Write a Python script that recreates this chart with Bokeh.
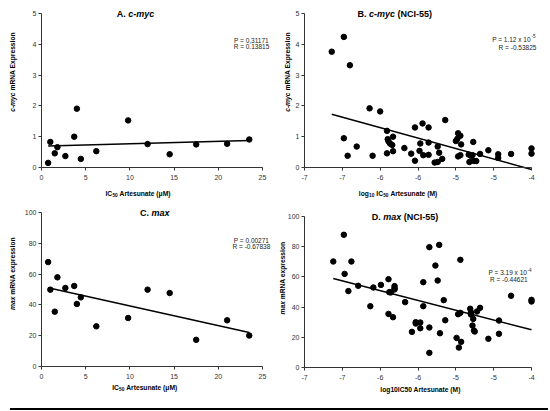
import numpy as np
from bokeh.plotting import figure
from bokeh.models import Range1d, Label, FixedTicker, Div
from bokeh.layouts import column, row
from bokeh.embed import file_html
from bokeh.resources import INLINE

# ---------------- data ----------------
ic50_um = [0.75, 1.0, 1.5, 1.8, 2.7, 3.7, 4.0, 4.45, 6.2, 9.8, 12.0, 14.5, 17.5, 21.0, 23.5]
cmyc_expr = [0.15, 0.83, 0.46, 0.66, 0.37, 1.00, 1.91, 0.28, 0.53, 1.53, 0.76, 0.43, 0.75, 0.77, 0.91]
max_expr = [67.8, 49.9, 35.6, 57.9, 51.0, 52.3, 40.6, 44.9, 26.1, 31.5, 49.9, 47.7, 17.3, 30.0, 20.1]

nci_log_ic50_b = [-6.64, -6.48, -6.40, -6.48, -6.43, -6.31, -6.14, -6.10, -6.00, -5.91,
                  -5.83, -5.90, -5.89, -5.87, -5.84, -5.91, -5.83, -5.68, -5.59, -5.54,
                  -5.54, -5.44, -5.36, -5.14, -5.47, -5.36, -5.24, -5.48, -5.43, -5.36,
                  -5.22, -5.18, -5.28, -5.24, -4.97, -4.94, -4.98, -5.00, -4.93, -4.97,
                  -4.94, -4.77, -4.83, -4.80, -4.78, -4.82, -4.76, -4.73, -4.68, -4.57,
                  -4.44, -4.44, -4.27, -4.00, -4.00]
nci_cmyc = [3.76, 4.24, 3.32, 0.95, 0.38, 0.68, 1.92, 0.38, 1.82, 1.19,
            1.00, 0.92, 0.85, 0.78, 0.73, 0.46, 0.53, 0.63, 0.45, 1.30,
            0.22, 1.43, 1.30, 1.54, 0.78, 0.81, 0.68, 0.54, 0.40, 0.41,
            0.48, 0.28, 0.16, 0.18, 1.11, 1.03, 0.93, 0.86, 0.75, 0.36,
            0.40, 0.83, 0.42, 0.38, 0.40, 0.18, 0.21, 0.21, 0.44, 0.56,
            0.43, 0.31, 0.44, 0.62, 0.45]

nci_log_ic50_d = [-6.48, -6.62, -6.38, -6.47, -6.42, -6.29, -6.09, -5.99, -5.89, -5.88,
                  -5.86, -5.81, -5.81, -5.81, -6.13, -5.67, -5.89, -5.83, -5.58, -5.53,
                  -5.53, -5.35, -5.22, -5.27, -4.94, -5.43, -5.24, -5.16, -5.43, -5.47,
                  -5.47, -5.35, -5.21, -5.14, -5.35, -4.99, -4.93, -4.96, -4.97, -4.94,
                  -4.81, -4.80, -4.80, -4.72, -4.68, -4.77, -4.78, -4.76, -4.75, -4.57,
                  -4.43, -4.43, -4.27, -4.00, -4.00]
nci_max = [87.9, 70.2, 70.2, 62.0, 50.6, 54.1, 53.0, 54.7, 58.5, 49.9,
           49.7, 53.9, 52.5, 51.7, 40.6, 43.3, 35.5, 33.3, 23.6, 30.0,
           29.1, 79.7, 81.2, 67.5, 71.3, 56.5, 57.6, 44.6, 40.6, 29.8,
           26.0, 26.5, 22.7, 31.3, 9.7, 19.6, 17.0, 13.2, 35.3, 36.2,
           38.9, 36.6, 35.1, 37.1, 39.5, 32.2, 27.8, 24.5, 23.8, 19.0,
           31.1, 22.3, 47.5, 44.8, 43.7]

# tick values / labels
um_ticks = [0, 5, 10, 15, 20, 25]
log_ticks = [-7, -6.5, -6, -5.5, -5, -4.5, -4]
log_tick_labels = ["-7", "-7", "-6", "-6", "-5", "-5", "-4"]
cmyc_ticks = [0, 1, 2, 3, 4, 5]
max_ticks = [0, 20, 40, 60, 80, 100]

# stats texts
stats_a = ["P = 0,31171", "R = 0.13815"]
stats_b = ["P = 1.12 x 10", "-5", "R = -0.53825"]
stats_c = ["P = 0.00271", "R = -0.67838"]
stats_d = ["P = 3.19 x 10", "-4", "R = -0.44621"]

FONT = "Liberation Sans"
AX = "#333333"


def padded(lo, hi, length_px, before_px, after_px):
    per_px = (hi - lo) / length_px
    return Range1d(lo - before_px * per_px, hi + after_px * per_px)


def make_fig(w, h, xext, yext, left, right, top, bottom, xticks, yticks):
    fw = w - left - right
    fh = h - top - bottom
    p = figure(width=w, height=h,
               x_range=padded(xext[0], xext[1], fw, left, right),
               y_range=padded(yext[0], yext[1], fh, bottom, top),
               output_backend="svg", toolbar_location=None,
               min_border=0)
    p.grid.visible = False
    p.outline_line_color = None
    p.background_fill_color = "white"
    p.border_fill_color = "white"
    for ax in (p.xaxis[0], p.yaxis[0]):
        ax.axis_line_color = AX
        ax.axis_line_width = 1
        ax.major_tick_line_color = AX
        ax.major_tick_out = 3
        ax.major_tick_in = 0
        ax.minor_tick_line_color = None
        ax.major_label_text_font = FONT
        ax.major_label_text_font_size = "7px"
        ax.major_label_text_color = AX
    p.xaxis[0].ticker = FixedTicker(ticks=xticks, minor_ticks=[])
    p.yaxis[0].ticker = FixedTicker(ticks=yticks, minor_ticks=[])
    p.xaxis[0].major_label_standoff = 4
    p.yaxis[0].major_label_standoff = 2
    p.xaxis[0].fixed_location = yext[0]
    p.yaxis[0].fixed_location = xext[0]
    p.xaxis[0].bounds = xext
    p.yaxis[0].bounds = yext
    return p


def lab(p, x, y, text, size, style="normal", align="left", angle=0.0, color="black"):
    p.add_layout(Label(x=x, y=y, text=text, text_font=FONT, text_font_size=f"{size}px",
                       text_font_style=style, text_align=align, text_baseline="middle",
                       angle=angle, text_color=color))


def scatter_fit(p, xs, ys):
    p.scatter(xs, ys, size=5.5, color="black")
    k, b = np.polyfit(xs, ys, 1)
    lx = [min(xs), max(xs)]
    p.line(lx, [k * v + b for v in lx], line_width=1.5, color="black")


ROT = np.pi / 2
SC = "#222222"

# ---------------- A ----------------
pa = make_fig(273, 200, (0, 25), (0, 5), 41, 11, 13, 33, um_ticks, cmyc_ticks)
scatter_fit(pa, ic50_um, cmyc_expr)
lab(pa, 8.52, 5.0, "A.", 9, "bold")
lab(pa, 9.82, 5.0, "c-myc", 9, "bold italic")
lab(pa, 23.75, 4.12, stats_a[0], 6.5, align="center", color=SC)
lab(pa, 23.75, 3.92, stats_a[1], 6.5, align="center", color=SC)
lab(pa, -3.31, 2.435, "c-myc", 6.7, "bold italic", align="right", angle=ROT)
lab(pa, -3.31, 2.50, "mRNA Expression", 6.7, "bold", angle=ROT)
lab(pa, 7.24, -0.834, "IC", 6.7, "bold")
lab(pa, 8.02, -0.893, "50", 4.8, "bold")
lab(pa, 8.83, -0.834, "Artesunate (\u03bcM)", 6.7, "bold")

# ---------------- B ----------------
pb = make_fig(269, 200, (-7, -4), (0, 5), 31, 11, 13, 33, log_ticks, cmyc_ticks)
pb.xaxis[0].major_label_overrides = {t: s for t, s in zip(log_ticks, log_tick_labels)}
scatter_fit(pb, nci_log_ic50_b, nci_cmyc)
lab(pb, -6.30, 5.0, "B.", 9, "bold")
lab(pb, -6.148, 5.0, "c-myc", 9, "bold italic")
lab(pb, -5.771, 5.0, "(NCI-55)", 9, "bold")
lab(pb, -4.52, 4.15, stats_b[0], 6.5, color=SC)
lab(pb, -4.0, 4.26, stats_b[1], 4.6, color=SC)
lab(pb, -4.185, 3.91, stats_b[2], 6.5, align="center", color=SC)
lab(pb, -7.229, 2.435, "c-myc", 6.7, "bold italic", align="right", angle=ROT)
lab(pb, -7.229, 2.50, "mRNA Expression", 6.7, "bold", angle=ROT)
lab(pb, -6.2824, -0.834, "log", 6.7, "bold")
lab(pb, -6.1463, -0.893, "10", 4.8, "bold")
lab(pb, -6.0511, -0.834, "IC", 6.7, "bold")
lab(pb, -5.9600, -0.893, "50", 4.8, "bold")
lab(pb, -5.8648, -0.834, "Artesunate (M)", 6.7, "bold")

# ---------------- C ----------------
pc = make_fig(273, 203, (0, 25), (0, 100), 41, 11, 12, 37, um_ticks, max_ticks)
scatter_fit(pc, ic50_um, max_expr)
lab(pc, 11.14, 100, "C.", 9, "bold")
lab(pc, 12.44, 100, "max", 9, "bold italic")
lab(pc, 23.75, 82.0, stats_c[0], 6.5, align="center", color=SC)
lab(pc, 23.75, 77.7, stats_c[1], 6.5, align="center", color=SC)
lab(pc, -3.31, 45.4, "max", 6.7, "bold italic", align="right", angle=ROT)
lab(pc, -3.31, 46.6, "mRNA expression", 6.7, "bold", angle=ROT)
lab(pc, 8.0, -13.8, "IC", 6.7, "bold")
lab(pc, 8.78, -14.9, "50", 4.8, "bold")
lab(pc, 9.59, -13.8, "Artesunate (\u03bcM)", 6.7, "bold")

# ---------------- D ----------------
pd_ = make_fig(269, 203, (-7, -4), (0, 100), 31, 11, 16, 36, log_ticks, max_ticks)
pd_.xaxis[0].major_label_overrides = {t: s for t, s in zip(log_ticks, log_tick_labels)}
scatter_fit(pd_, nci_log_ic50_d, nci_max)
lab(pd_, -6.111, 100, "D.", 9, "bold")
lab(pd_, -5.959, 100, "max", 9, "bold italic")
lab(pd_, -5.688, 100, "(NCI-55)", 9, "bold")
lab(pd_, -4.568, 63.1, stats_d[0], 6.5, color=SC)
lab(pd_, -4.053, 64.9, stats_d[1], 4.6, color=SC)
lab(pd_, -4.30, 58.3, stats_d[2], 6.5, align="center", color=SC)
lab(pd_, -7.287, 44.0, "max", 6.7, "bold italic", align="right", angle=ROT)
lab(pd_, -7.287, 45.2, "mRNA expression", 6.7, "bold", angle=ROT)
lab(pd_, -5.467, -14.6, "log10IC50 Artesunate (M)", 6.7, "bold", align="center")

rule = Div(text="", width=543, height=2,
           styles={"background": "linear-gradient(to right, white 5px, black 5px)"})

layout = column(row(pa, pb), row(pc, pd_), rule)

open("out.html", "w").write(file_html(layout, INLINE))
